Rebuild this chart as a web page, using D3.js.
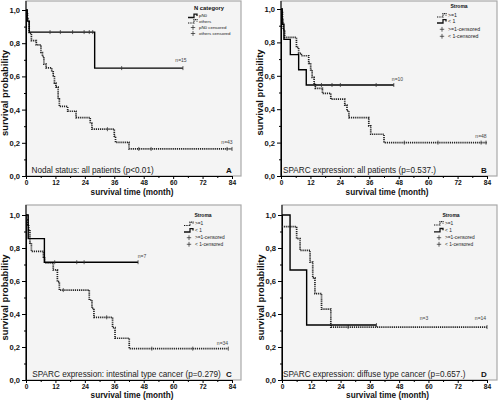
<!DOCTYPE html>
<html><head><meta charset="utf-8">
<script src="https://cdn.jsdelivr.net/npm/d3@7"></script>
<style>
html,body{margin:0;padding:0;background:#fff;}
svg{display:block;font-family:"Liberation Sans",Arial,sans-serif;}
</style></head>
<body>
<svg id="chart" width="498" height="403"></svg>
<script>
// ---------- data ----------
const xTickValues = [0, 12, 24, 36, 48, 60, 72, 84];
const xMinorValues = [6, 18, 30, 42, 54, 66, 78];
const yTickValues = [0, 0.2, 0.4, 0.6, 0.8, 1.0];
const yTickLabels = ["0,0", "0,2", "0,4", "0,6", "0,8", "1,0"];
const yMinorValues = [0.1, 0.3, 0.5, 0.7, 0.9];
const xAxisTitle = "survival time (month)";
const yAxisTitle = "survival probability";

// Panel A: nodal status
const aSolidTime = [0, 0.5, 1.3, 28];
const aSolidSurv = [1, 0.933, 0.867, 0.65];
const aSolidEnd = 64;
const aSolidCensor = [9.8, 14, 19, 23.7, 25.8, 27.2, 39, 64];
const aDotTime = [0, 0.3, 0.6, 0.9, 1.3, 2.2, 4.2, 6.1, 6.7, 7.3, 8.2, 10.5, 11.1, 11.6, 12.2, 13.1, 13.6, 17, 20.4, 26.2, 26.9, 36.0, 36.5, 42];
const aDotSurv = [1, 0.977, 0.953, 0.93, 0.86, 0.815, 0.79, 0.744, 0.72, 0.674, 0.651, 0.628, 0.605, 0.56, 0.535, 0.465, 0.419, 0.39, 0.352, 0.317, 0.282, 0.24, 0.203, 0.163];
const aDotEnd = 84;
const aDotCensor = [33.2, 46, 51, 82, 84];
const aLegendTitle = "N category";
const aLegendItems = ["pN0", "others", "pN0 censored", "others censored"];
const aNLabels = ["n=15", "n=43"];
const aCaption = "Nodal status: all patients (p<0.01)";

// Panel B: SPARC all patients
const bSolidTime = [0, 0.5, 1.2, 3.8, 7.2, 10.3];
const bSolidSurv = [1, 0.909, 0.818, 0.727, 0.636, 0.545];
const bSolidEnd = 46;
const bSolidCensor = [16.5, 20.8, 24.2, 38.8, 46];
const bDotTime = [0, 0.3, 0.6, 0.9, 1.5, 6.3, 7.2, 8.3, 11.3, 12.1, 12.7, 13.5, 14, 16.9, 20.3, 26, 26.9, 27.7, 35.8, 36.6, 42];
const bDotSurv = [1, 0.979, 0.938, 0.875, 0.83, 0.77, 0.735, 0.72, 0.675, 0.635, 0.59, 0.555, 0.525, 0.495, 0.46, 0.425, 0.39, 0.35, 0.30, 0.25, 0.20];
const bDotEnd = 84;
const bDotCensor = [50.3, 64, 81.6, 83.6];
const strLegendTitle = "Stroma";
const strLegendItems = [">=1", "< 1", ">=1-censored", "< 1-censored"];
const bNLabels = ["n=10", "n=48"];
const bCaption = "SPARC expression: all patients (p=0.537.)";

// Panel C: intestinal type
const cSolidTime = [0, 0.9, 7.5];
const cSolidSurv = [1, 0.857, 0.714];
const cSolidEnd = 45.7;
const cSolidCensor = [11.7, 20.7, 23.7, 45.7];
const cDotTime = [0, 0.3, 0.7, 1.1, 1.6, 2.2, 7.1, 7.6, 11.1, 12.8, 13.6, 25.8, 26.9, 27.7, 35.3, 36.3, 42.1];
const cDotSurv = [1, 0.97, 0.94, 0.91, 0.83, 0.78, 0.745, 0.71, 0.667, 0.596, 0.545, 0.485, 0.434, 0.38, 0.317, 0.253, 0.19];
const cDotEnd = 82.5;
const cDotCensor = [15.2, 32.9, 51.3, 68, 82.5];
const cNLabels = ["n=7", "n=34"];
const cCaption = "SPARC expression: intestinal type cancer (p=0.279)";

// Panel D: diffuse type
const dSolidTime = [0, 3.3, 10.1];
const dSolidSurv = [1, 0.667, 0.333];
const dSolidEnd = 38.7;
const dSolidCensor = [38.7];
const dDotTime = [0, 6, 7.4, 11.5, 12.6, 13.5, 16.2, 20];
const dDotSurv = [0.929, 0.857, 0.786, 0.714, 0.619, 0.524, 0.429, 0.321];
const dDotEnd = 84;
const dDotCensor = [27.1, 84];
const dNLabels = ["n=3", "n=14"];
const dCaption = "SPARC expression: diffuse type cancer (p=0.657.)";

// ---------- layout ----------
const panels = [
  {letter:"A", x0:26, x1:232, yT:10, yB:176, boxTop:1, boxRight:241,
   solid:[aSolidTime,aSolidSurv,aSolidEnd,aSolidCensor], dot:[aDotTime,aDotSurv,aDotEnd,aDotCensor],
   legTitle:aLegendTitle, legItems:aLegendItems, legX:188, legTitleX:209, legTitleY:8.5, legRows:[16,21.5,27.5,33.5], legFont:4.4, legTitleFont:5.8,
   solidFirst:true,
   nLabels:aNLabels, nPos:[[181,62],[227,143.5]], caption:aCaption, capX:31.5, capY:173, xTitleY:194.5},
  {letter:"B", x0:281, x1:487, yT:9, yB:176, boxTop:1, boxRight:497,
   solid:[bSolidTime,bSolidSurv,bSolidEnd,bSolidCensor], dot:[bDotTime,bDotSurv,bDotEnd,bDotCensor],
   legTitle:strLegendTitle, legItems:strLegendItems, legX:437, legTitleX:459, legTitleY:6.5, legRows:[15.5,21.5,29.3,36.3], legFont:5.2, legTitleFont:5,
   solidFirst:false,
   nLabels:bNLabels, nPos:[[397.5,80.5],[481,137.5]], caption:bCaption, capX:283, capY:173, xTitleY:194.5},
  {letter:"C", x0:26, x1:232, yT:215, yB:380, boxTop:205, boxRight:241,
   solid:[cSolidTime,cSolidSurv,cSolidEnd,cSolidCensor], dot:[cDotTime,cDotSurv,cDotEnd,cDotCensor],
   legTitle:strLegendTitle, legItems:strLegendItems, legX:184, legTitleX:203, legTitleY:215.5, legRows:[224,230.5,237.7,244.3], legFont:4.8, legTitleFont:5,
   solidFirst:false,
   nLabels:cNLabels, nPos:[[142,258],[222.5,344.5]], caption:cCaption, capX:32.3, capY:376.5, xTitleY:398},
  {letter:"D", x0:282, x1:487, yT:215, yB:380, boxTop:205, boxRight:497,
   solid:[dSolidTime,dSolidSurv,dSolidEnd,dSolidCensor], dot:[dDotTime,dDotSurv,dDotEnd,dDotCensor],
   legTitle:strLegendTitle, legItems:strLegendItems, legX:434, legTitleX:451, legTitleY:215.5, legRows:[223.5,230.3,237.7,244.3], legFont:4.8, legTitleFont:5,
   solidFirst:false,
   nLabels:dNLabels, nPos:[[424,319.5],[480.5,319.5]], caption:dCaption, capX:283, capY:376.5, xTitleY:398}
];

const svg = d3.select("#chart");
const dotDash = "1.2,0.9";

panels.forEach(p => {
  const g = svg.append("g");
  const x = d3.scaleLinear().domain([0, 84]).range([p.x0, p.x1]);
  const y = d3.scaleLinear().domain([0, 1]).range([p.yB, p.yT]);

  // plot background box
  g.append("rect").attr("x", p.x0).attr("y", p.boxTop)
    .attr("width", p.boxRight - p.x0).attr("height", p.yB - p.boxTop)
    .attr("fill", "#f4f4f4").attr("stroke", "#a8a8a8").attr("stroke-width", 1.2);

  // axes
  const yAxis = d3.axisLeft(y).tickValues(yTickValues).tickSize(4).tickPadding(2)
    .tickFormat((d, i) => yTickLabels[i]);
  const yAxisMinor = d3.axisLeft(y).tickValues(yMinorValues).tickSize(2).tickFormat("");
  const xAxis = d3.axisBottom(x).tickValues(xTickValues).tickSize(3).tickPadding(1.5);
  const xAxisMinor = d3.axisBottom(x).tickValues(xMinorValues).tickSize(2).tickFormat("");

  const ya = g.append("g").attr("transform", `translate(${p.x0},0)`).call(yAxis);
  g.append("g").attr("transform", `translate(${p.x0},0)`).call(yAxisMinor);
  const xa = g.append("g").attr("transform", `translate(0,${p.yB})`).call(xAxis);
  g.append("g").attr("transform", `translate(0,${p.yB})`).call(xAxisMinor);
  g.selectAll(".domain").attr("stroke", "#000").attr("stroke-width", 1);
  g.selectAll(".tick line").attr("stroke", "#000");
  ya.selectAll("text").attr("font-size", 7.6).attr("font-weight", "bold").attr("fill", "#111");
  xa.selectAll("text").attr("font-size", 6.6).attr("font-weight", "bold").attr("fill", "#111");
  g.append("line").attr("x1", p.x0).attr("x2", p.x0).attr("y1", p.boxTop).attr("y2", p.yB)
    .attr("stroke", "#000").attr("stroke-width", 1);

  // axis titles
  g.append("text").attr("x", (p.x0 + p.x1) / 2 + 3).attr("y", p.xTitleY)
    .attr("text-anchor", "middle").attr("font-size", 8.2).attr("font-weight", "bold")
    .attr("fill", "#111").text(xAxisTitle);
  g.append("text").attr("transform", `translate(${p.x0 - 18},${(p.yT + p.yB) / 2}) rotate(-90)`)
    .attr("text-anchor", "middle").attr("font-size", 9.4).attr("font-weight", "bold")
    .attr("fill", "#111").text(yAxisTitle);

  const line = d3.line().x(d => x(d[0])).y(d => y(d[1])).curve(d3.curveStepAfter);
  const stepAt = (times, surv, t) => { let s = surv[0]; times.forEach((tt, i) => { if (tt <= t) s = surv[i]; }); return s; };

  function drawCurve(series, dashed) {
    const [times, surv, end, cens] = series;
    const pts = times.map((t, i) => [t, surv[i]]);
    pts.push([end, surv[surv.length - 1]]);
    g.append("path").attr("d", line(pts)).attr("fill", "none")
      .attr("stroke", dashed ? "#222" : "#000").attr("stroke-width", dashed ? 1.7 : 1.4)
      .attr("stroke-dasharray", dashed ? dotDash : null);
    g.selectAll(null).data(cens).enter().append("line")
      .attr("x1", d => x(d)).attr("x2", d => x(d))
      .attr("y1", d => y(stepAt(times, surv, d)) - 2).attr("y2", d => y(stepAt(times, surv, d)) + 2)
      .attr("stroke", "#333").attr("stroke-width", 0.8);
  }
  drawCurve(p.dot, true);
  drawCurve(p.solid, false);

  // legend
  g.append("text").attr("x", p.legTitleX).attr("y", p.legTitleY).attr("text-anchor", "middle")
    .attr("dominant-baseline", "middle").attr("font-size", p.legTitleFont).attr("font-weight", "bold")
    .attr("fill", "#111").text(p.legTitle);
  const glyph = (x0, yc) => `M${x0},${yc + 1.5}H${x0 + 6}V${yc - 1.8}H${x0 + 9}V${yc}`;
  p.legItems.forEach((label, i) => {
    const yc = p.legRows[i];
    if (i < 2) {
      const dashed = p.solidFirst ? i === 1 : i === 0;
      g.append("path").attr("d", glyph(p.legX, yc)).attr("fill", "none")
        .attr("stroke", "#111").attr("stroke-width", dashed ? 1.2 : 1.3)
        .attr("stroke-dasharray", dashed ? "1,0.7" : null);
    } else {
      const cx = p.legX + 5;
      g.append("path").attr("d", `M${cx - 2.2},${yc}H${cx + 2.2}M${cx},${yc - 2.4}V${yc + 2.4}`)
        .attr("stroke", "#222").attr("stroke-width", 0.7);
    }
    g.append("text").attr("x", p.legX + 11).attr("y", yc).attr("dominant-baseline", "middle")
      .attr("font-size", p.legFont).attr("fill", "#222").text(label);
  });

  // n labels
  p.nLabels.forEach((t, i) => {
    g.append("text").attr("x", p.nPos[i][0]).attr("y", p.nPos[i][1]).attr("text-anchor", "middle")
      .attr("font-size", 5).attr("fill", "#444").text(t);
  });

  // caption and letter
  g.append("text").attr("x", p.capX).attr("y", p.capY).attr("font-size", 8.2)
    .attr("fill", "#222").text(p.caption);
  g.append("text").attr("x", p.x1 - 3).attr("y", p.capY).attr("text-anchor", "middle")
    .attr("font-size", 8).attr("font-weight", "bold").attr("fill", "#111").text(p.letter);
});
</script>
</body></html>
